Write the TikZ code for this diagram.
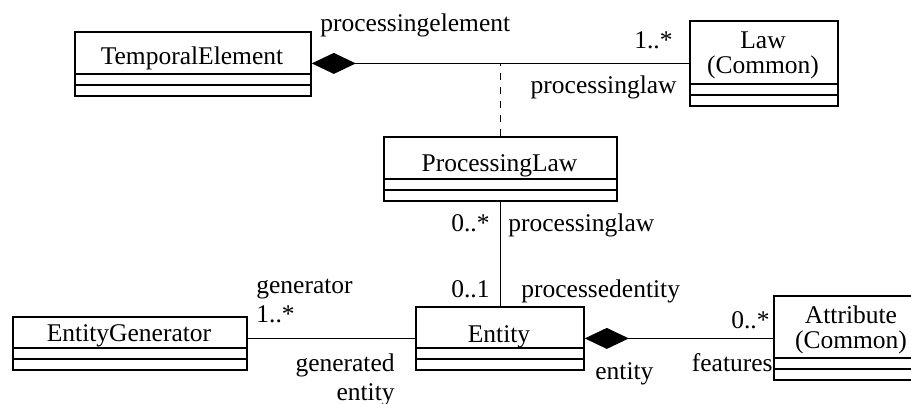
\documentclass[tikz,border=0pt]{standalone}
\usepackage{fontspec}
\setmainfont{Liberation Serif}
\usetikzlibrary{arrows.meta}
\tikzset{
  cls/.style={draw, line width=0.9pt, inner sep=0pt, anchor=north west,
    path picture={
      \draw[line width=0.9pt] ([yshift=11pt]path picture bounding box.south west) -- ([yshift=11pt]path picture bounding box.south east);
      \draw[line width=0.9pt] ([yshift=5.5pt]path picture bounding box.south west) -- ([yshift=5.5pt]path picture bounding box.south east);
    }},
  txt/.style={inner sep=0pt, font=\fontsize{12.75pt}{10pt}\selectfont},
  conn/.style={line width=0.75pt},
  comp/.style={conn, {Diamond[length=22pt,width=10.5pt]}-},
}
\begin{document}
\begin{tikzpicture}[x=0.5pt,y=-0.5pt]
\useasboundingbox (0,0) rectangle (911,403);
% classes
\node[cls, minimum width=118pt, minimum height=32pt] (te) at (74,31) {};
\node[cls, minimum width=74pt, minimum height=42.5pt] (law) at (689,20) {};
\node[cls, minimum width=116.5pt, minimum height=32pt] (pl) at (383,136) {};
\node[cls, minimum width=84pt, minimum height=31.5pt] (ent) at (415,306) {};
\node[cls, minimum width=117pt, minimum height=26.5pt] (eg) at (12,316) {};
\node[cls, minimum width=78pt, minimum height=42pt] (att) at (773,295) {};
% class names
\node[txt, anchor=base] (te-n) at (192,64) {TemporalElement};
\node[txt, anchor=base] (law-n) at (763,48) {Law};
\node[txt, anchor=base] (law-c) at (763,73) {(Common)};
\node[txt, anchor=base] (pl-n) at (499.5,171) {ProcessingLaw};
\node[txt, anchor=base] (ent-n) at (499,342) {Entity};
\node[txt, anchor=base] (eg-n) at (129,341) {EntityGenerator};
\node[txt, anchor=base] (att-n) at (851,323) {Attribute};
\node[txt, anchor=base] (att-c) at (851,348) {(Common)};
% connectors
\draw[comp] (te.east |- law.west) -- (law.west);
\draw[conn, dash pattern=on 3.5pt off 3.5pt] (pl.north) -- (pl.north |- law.west);
\draw[conn] (pl.south) -- (pl.south |- ent.north);
\draw[conn] (ent.west -| eg.east) -- (ent.west);
\draw[comp] (ent.east) -- (ent.east -| att.west);
% role and multiplicity labels
\node[txt, anchor=base west] (l1) at (320,31) {processingelement};
\node[txt, anchor=base east] (l2) at (673,48) {1..*};
\node[txt, anchor=base east] (l3) at (677,93) {processinglaw};
\node[txt, anchor=base east] (l4) at (490,231) {0..*};
\node[txt, anchor=base west] (l5) at (508,231) {processinglaw};
\node[txt, anchor=base east] (l6) at (490,297) {0..1};
\node[txt, anchor=base west] (l7) at (521,297) {processedentity};
\node[txt, anchor=base west] (l8) at (256,293) {generator};
\node[txt, anchor=base west] (l9) at (256,322) {1..*};
\node[txt, anchor=base east] (l10) at (395,371) {generated};
\node[txt, anchor=base east] (l11) at (395,400) {entity};
\node[txt, anchor=base west] (l12) at (595,379) {entity};
\node[txt, anchor=base east] (l13) at (770,328) {0..*};
\node[txt, anchor=base east] (l14) at (773,371) {features};
\end{tikzpicture}
\end{document}
